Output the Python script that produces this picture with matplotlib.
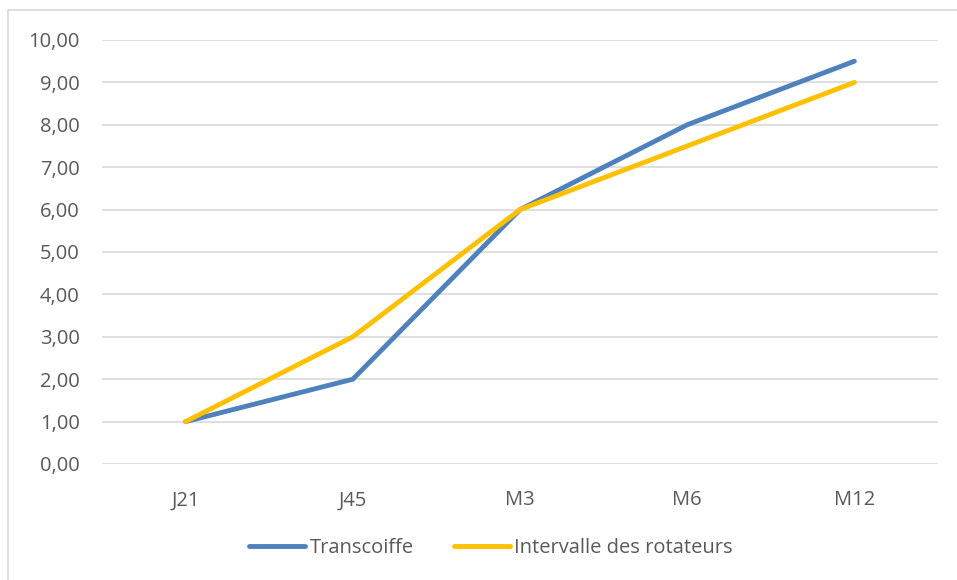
import matplotlib
matplotlib.use("Agg")
import matplotlib.pyplot as plt
from matplotlib.patches import Rectangle

categories = ["J21", "J45", "M3", "M6", "M12"]
transcoiffe = [1, 2, 6, 8, 9.5]
intervalle = [1, 3, 6, 7.5, 9]
yticks = [0, 1, 2, 3, 4, 5, 6, 7, 8, 9, 10]

plt.rcParams['font.family'] = ['Open Sans', 'DejaVu Sans']
txt = '#595959'
fs = 14.5

fig = plt.figure(figsize=(9.57, 5.8), dpi=100)
fig.patches.append(Rectangle((8/957, -0.1), 1.2, 1 - 10/580 + 0.1, transform=fig.transFigure,
                             fill=False, edgecolor='#d9d9d9', linewidth=1.2))
ax = fig.add_axes([102/957, 1 - 464/580, (938 - 102)/957, (464 - 40)/580])
x = list(range(len(categories)))
ax.plot(x, transcoiffe, color='#4f81bd', lw=3.5, solid_capstyle='round', label='Transcoiffe', zorder=3)
ax.plot(x, intervalle, color='#ffc000', lw=3.5, solid_capstyle='round', label='Intervalle des rotateurs', zorder=3)
ax.set_xlim(-0.5, len(categories) - 0.5)
ax.set_ylim(0, 10)
ax.set_yticks(yticks)
ax.set_yticklabels([f"{v:.2f}".replace('.', ',') for v in yticks], fontsize=fs, color=txt)
ax.set_xticks(x)
ax.set_xticklabels(categories, fontsize=fs, color=txt)
ax.tick_params(length=0)
ax.tick_params(axis='y', pad=16)
ax.tick_params(axis='x', pad=19)
ax.grid(axis='y', color='#d9d9d9', lw=1.2)
ax.set_axisbelow(True)
for s in ax.spines.values():
    s.set_visible(False)
leg = fig.legend(loc='center', bbox_to_anchor=(491/957, 1 - 548/580), ncol=2, frameon=False,
                 fontsize=fs, handlelength=2.8, handletextpad=0.2, columnspacing=2.0)
for t in leg.get_texts():
    t.set_color(txt)
fig.savefig('out.png', dpi=100)
